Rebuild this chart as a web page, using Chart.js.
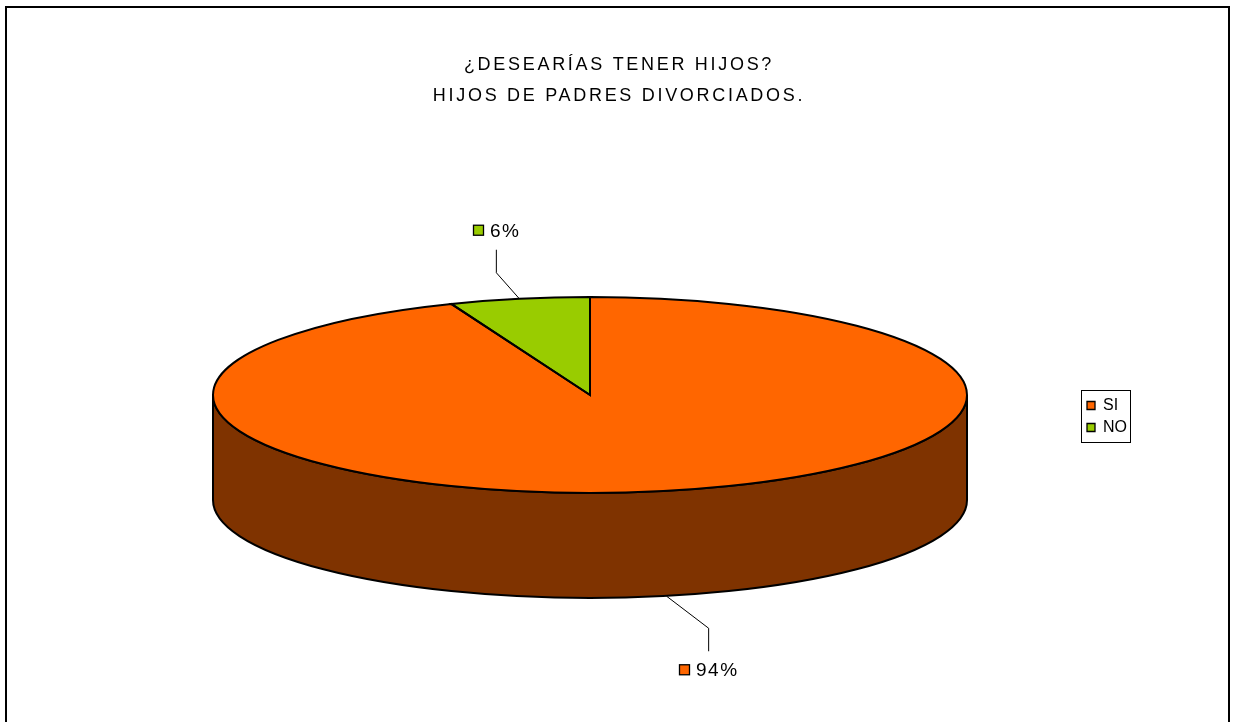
<!DOCTYPE html>
<html>
<head>
<meta charset="utf-8">
<script src="https://cdn.jsdelivr.net/npm/chart.js@4/dist/chart.umd.min.js"></script>
<style>
    html, body { margin: 0; background: #fff; }
    #wrap { width: 1237px; height: 722px; }
</style>
</head>
<body>
<div id="wrap"><canvas id="pieChart" width="1237" height="722"></canvas></div>
<script>
// Datos de la encuesta
const categories = ['SI', 'NO'];
const percentValues = [94, 6];
const topColors = ['#FF6600', '#99CC00'];
const sideColors = ['#7F3300', '#4C6600'];
const titleLines = ['¿DESEARÍAS TENER HIJOS?', 'HIJOS DE PADRES DIVORCIADOS.'];

// Geometría del pastel 3D en pantalla (centro, radios de la elipse, grosor)
const CX = 590, CY = 395, RX = 377, RY = 98, DEPTH = 105;
// Codo de cada línea guía respecto al punto del borde
const leaderOffsets = [[42, 32], [-23, -26]];
const FONT = "'Liberation Sans', Arial, sans-serif";

const pie3d = {
    id: 'pie3d',
    // marco + título
    beforeDraw(chart) {
        const ctx = chart.ctx;
        ctx.save();
        ctx.lineWidth = 2;
        ctx.strokeStyle = '#000';
        ctx.strokeRect(6, 7, 1223, 730);

        ctx.font = '18px ' + FONT;
        ctx.letterSpacing = '2.7px';
        ctx.fillStyle = '#000';
        ctx.textAlign = 'center';
        ctx.textBaseline = 'alphabetic';
        ctx.fillText(titleLines[0], 619, 70);
        ctx.fillText(titleLines[1], 619, 101);
        ctx.restore();
    },
    // cara lateral, luego aplastar el pastel en elipse
    beforeDatasetsDraw(chart) {
        const ctx = chart.ctx;
        const arcs = chart.getDatasetMeta(0).data;

        // solo la mitad frontal (ángulos 0..π) es visible
        arcs.forEach((arc, i) => {
            const a1 = Math.max(arc.startAngle, 0);
            const a2 = Math.min(arc.endAngle, Math.PI);
            if (a2 <= a1) return;
            ctx.save();
            ctx.beginPath();
            ctx.ellipse(CX, CY, RX, RY, 0, a1, a2);
            ctx.lineTo(CX + RX * Math.cos(a2), CY + DEPTH + RY * Math.sin(a2));
            ctx.ellipse(CX, CY + DEPTH, RX, RY, 0, a2, a1, true);
            ctx.closePath();
            ctx.fillStyle = sideColors[i];
            ctx.fill();
            ctx.lineWidth = 2;
            ctx.strokeStyle = '#000';
            ctx.stroke();
            ctx.restore();
        });

        const a0 = arcs[0];
        ctx.save();
        ctx.translate(CX, CY);
        ctx.scale(RX / a0.outerRadius, RY / a0.outerRadius);
        ctx.translate(-a0.x, -a0.y);
    },
    afterDatasetsDraw(chart) {
        const ctx = chart.ctx;
        ctx.restore();
        const arcs = chart.getDatasetMeta(0).data;
        const total = percentValues.reduce((a, b) => a + b, 0);

        // contorno de cada porción
        ctx.save();
        ctx.lineWidth = 2;
        ctx.strokeStyle = '#000';
        arcs.forEach(arc => {
            ctx.beginPath();
            ctx.moveTo(CX, CY);
            ctx.ellipse(CX, CY, RX, RY, 0, arc.startAngle, arc.endAngle);
            ctx.closePath();
            ctx.stroke();
        });
        ctx.restore();

        // etiquetas de porcentaje con línea guía
        ctx.save();
        ctx.font = '19px ' + FONT;
        ctx.letterSpacing = '1.5px';
        ctx.textBaseline = 'alphabetic';
        ctx.textAlign = 'left';
        arcs.forEach((arc, i) => {
            const mid = (arc.startAngle + arc.endAngle) / 2;
            const front = Math.sin(mid) > 0;
            const ax = CX + RX * Math.cos(mid) + (front ? 6 : 0);
            const ay = CY + RY * Math.sin(mid) + (front ? DEPTH : 0);
            const ex = ax + leaderOffsets[i][0];
            const ey = ay + leaderOffsets[i][1];
            const ty = ey + (front ? 23 : -23);

            ctx.beginPath();
            ctx.moveTo(ax, ay);
            ctx.lineTo(ex, ey);
            ctx.lineTo(ex, ty);
            ctx.lineWidth = 1;
            ctx.strokeStyle = '#000';
            ctx.stroke();

            const text = Math.round(percentValues[i] / total * 100) + '%';
            const tw = ctx.measureText(text).width;
            const lx = Math.round(ex - (11 + 6 + tw) / 2);
            const base = front ? ty + 25 : ty - 13;
            const boxTop = base - 12;
            ctx.fillStyle = topColors[i];
            ctx.fillRect(lx + 0.5, boxTop + 0.5, 10, 10);
            ctx.lineWidth = 1.3;
            ctx.strokeRect(lx + 0.5, boxTop + 0.5, 10, 10);
            ctx.fillStyle = '#000';
            ctx.fillText(text, lx + 17, base);
        });
        ctx.restore();
    },
    afterDraw(chart) {
        // recuadro de la leyenda
        const boxes = chart.legend.legendHitBoxes;
        if (!boxes || !boxes.length) return;
        const left = Math.min(...boxes.map(b => b.left));
        const right = Math.max(...boxes.map(b => b.left + b.width));
        const top = Math.min(...boxes.map(b => b.top));
        const bottom = Math.max(...boxes.map(b => b.top + b.height));
        const ctx = chart.ctx;
        ctx.save();
        ctx.lineWidth = 1;
        ctx.strokeStyle = '#000';
        ctx.strokeRect(Math.round(left - 6) + 0.5, Math.round(top - 8) + 0.5,
            Math.round(right - left + 9), Math.round(bottom - top + 14));
        ctx.restore();
    }
};

const chart = new Chart(document.getElementById('pieChart'), {
    type: 'pie',
    data: {
        labels: categories,
        datasets: [{
            data: percentValues,
            backgroundColor: topColors,
            borderWidth: 0
        }]
    },
    options: {
        responsive: false,
        animation: false,
        layout: { padding: { top: 111, right: 100, bottom: 0 } },
        plugins: {
            tooltip: { enabled: false },
            title: { display: false },
            legend: {
                position: 'right',
                labels: {
                    color: '#000',
                    font: { family: FONT, size: 16 },
                    boxWidth: 8,
                    boxHeight: 8,
                    padding: 6,
                    generateLabels(c) {
                        return Chart.overrides.pie.plugins.legend.labels.generateLabels(c).map(item => {
                            item.lineWidth = 1.3;
                            item.strokeStyle = '#000';
                            return item;
                        });
                    }
                }
            }
        }
    },
    plugins: [pie3d]
});
</script>
</body>
</html>
